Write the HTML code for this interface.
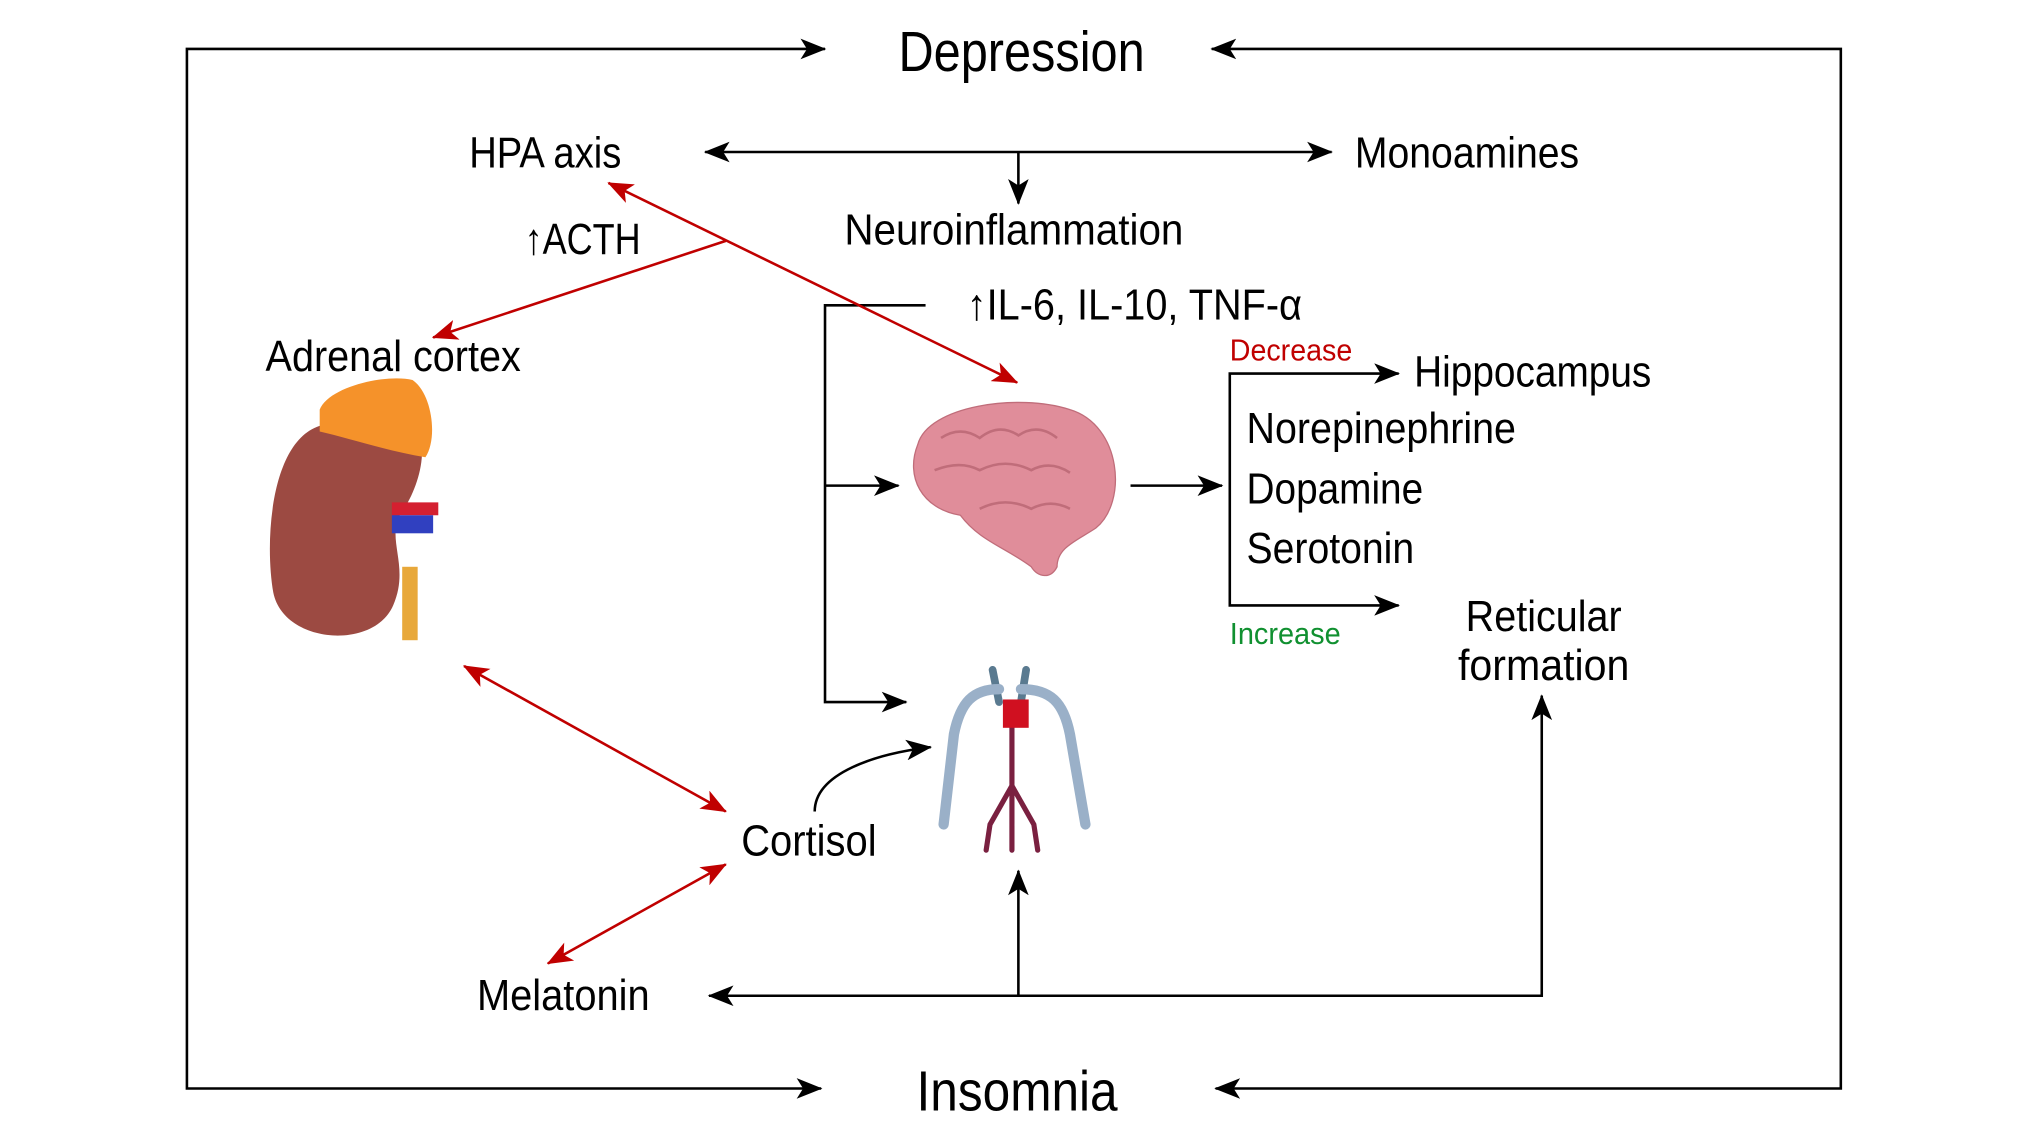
<!DOCTYPE html>
<html><head><meta charset="utf-8"><style>
html,body{margin:0;padding:0;background:#fff;width:2020px;height:1131px;overflow:hidden}
svg{display:block}
text{font-family:"Liberation Sans Narrow","Liberation Sans",sans-serif;fill:#000}
</style></head><body>
<svg width="2020" height="1131" viewBox="0 0 1567 878" preserveAspectRatio="none" xmlns="http://www.w3.org/2000/svg">
<defs>
<marker id="a" viewBox="0 0 20 16" refX="19" refY="8" markerWidth="20" markerHeight="16" markerUnits="userSpaceOnUse" orient="auto-start-reverse"><path d="M0,0 L20,8 L0,16 L5,8 z" fill="#000"/></marker>
<marker id="r" viewBox="0 0 20 16" refX="19" refY="8" markerWidth="20" markerHeight="16" markerUnits="userSpaceOnUse" orient="auto-start-reverse"><path d="M0,0 L20,8 L0,16 L5,8 z" fill="#c00000"/></marker>
</defs>
<g fill="none" stroke="#000" stroke-width="2">
<polyline points="640,38 145,38 145,845 637,845" marker-start="url(#a)" marker-end="url(#a)"/>
<polyline points="940,38 1428,38 1428,845 943,845" marker-start="url(#a)" marker-end="url(#a)"/>
<line x1="547" y1="118" x2="1033" y2="118" marker-start="url(#a)" marker-end="url(#a)"/>
<line x1="790" y1="118" x2="790" y2="158" marker-end="url(#a)"/>
<polyline points="718,237 640,237 640,545 703,545" marker-end="url(#a)"/>
<line x1="640" y1="377" x2="697" y2="377" marker-end="url(#a)"/>
<line x1="877" y1="377" x2="948" y2="377" marker-end="url(#a)"/>
<polyline points="1085,290 954,290 954,470 1085,470" marker-start="url(#a)" marker-end="url(#a)"/>
<polyline points="550,773 1196,773 1196,540" marker-start="url(#a)" marker-end="url(#a)"/>
<line x1="790" y1="773" x2="790" y2="676" marker-end="url(#a)"/>
<path d="M632,630 C632,600 680,585 722,580" marker-end="url(#a)"/>
</g>
<g fill="none" stroke="#c00000" stroke-width="2">
<line x1="472" y1="142" x2="789" y2="297" marker-start="url(#r)" marker-end="url(#r)"/>
<line x1="563" y1="187" x2="336" y2="262" marker-end="url(#r)"/>
<line x1="360" y1="517" x2="563" y2="630" marker-start="url(#r)" marker-end="url(#r)"/>
<line x1="563" y1="671" x2="425" y2="748" marker-start="url(#r)" marker-end="url(#r)"/>
</g>
<!-- kidney -->
<path d="M250,330 C210,340 205,420 212,460 C220,500 290,505 305,470 C318,440 300,420 310,400 C325,380 335,345 320,325 C300,310 270,320 250,330 Z" fill="#9c4a42"/>
<path d="M248,318 C255,300 300,290 320,295 C335,305 340,340 330,355 C300,350 270,340 248,335 Z" fill="#f5922a"/>
<rect x="312" y="440" width="12" height="57" fill="#e8a83a"/>
<rect x="304" y="390" width="36" height="10" fill="#d42030"/>
<rect x="304" y="400" width="32" height="14" fill="#3040c0"/>
<!-- brain -->
<path d="M712,345 C720,315 790,305 830,318 C870,330 875,390 850,410 C835,420 820,425 820,440 C815,450 805,448 800,440 C780,425 760,420 745,400 C715,395 702,370 712,345 Z" fill="#e08d9a" stroke="#c06d7a" stroke-width="1"/>
<path d="M730,340 q15,-10 30,0 q15,-12 30,-2 q15,-10 30,2 M725,365 q20,-8 35,0 q20,-10 40,0 q15,-8 30,2 M760,395 q20,-10 40,0 q15,-8 30,0" fill="none" stroke="#c06d7a" stroke-width="2"/>
<!-- circulatory -->
<g fill="none" stroke-linecap="round">
<path d="M770,520 L775,545 M796,520 L792,545" stroke="#5a7a90" stroke-width="6"/>
<path d="M775,535 C755,535 745,545 740,570 L732,640 M792,535 C815,535 825,545 830,570 L842,640" stroke="#9ab0c8" stroke-width="8"/>
<path d="M785,560 L785,610 L768,640 L765,660 M785,610 L802,640 L805,660 M785,610 L785,660" stroke="#7a2040" stroke-width="4"/>
<rect x="778" y="543" width="20" height="22" fill="#d01020" stroke="none"/>
</g>
<!-- text -->
<text x="697" y="55" font-size="44" textLength="191" lengthAdjust="spacingAndGlyphs">Depression</text>
<text x="711" y="862" font-size="44" textLength="156" lengthAdjust="spacingAndGlyphs">Insomnia</text>
<g font-size="34">
<text x="364" y="130" textLength="118" lengthAdjust="spacingAndGlyphs">HPA axis</text>
<text x="1051" y="130" textLength="174" lengthAdjust="spacingAndGlyphs">Monoamines</text>
<text x="655" y="190" textLength="263" lengthAdjust="spacingAndGlyphs">Neuroinflammation</text>
<text x="750" y="248" textLength="260" lengthAdjust="spacingAndGlyphs">↑IL-6, IL-10, TNF-α</text>
<text x="407" y="197" textLength="90" lengthAdjust="spacingAndGlyphs">↑ACTH</text>
<text x="206" y="288" textLength="198" lengthAdjust="spacingAndGlyphs">Adrenal cortex</text>
<text x="1097" y="300" textLength="184" lengthAdjust="spacingAndGlyphs">Hippocampus</text>
<text x="967" y="344" textLength="209" lengthAdjust="spacingAndGlyphs">Norepinephrine</text>
<text x="967" y="391" textLength="137" lengthAdjust="spacingAndGlyphs">Dopamine</text>
<text x="967" y="437" textLength="130" lengthAdjust="spacingAndGlyphs">Serotonin</text>
<text x="1137" y="490" textLength="121" lengthAdjust="spacingAndGlyphs">Reticular</text>
<text x="1131" y="528" textLength="133" lengthAdjust="spacingAndGlyphs">formation</text>
<text x="575" y="664" textLength="105" lengthAdjust="spacingAndGlyphs">Cortisol</text>
<text x="370" y="784" textLength="134" lengthAdjust="spacingAndGlyphs">Melatonin</text>
</g>
<text x="954" y="280" font-size="24" style="fill:#c00000" textLength="95" lengthAdjust="spacingAndGlyphs">Decrease</text>
<text x="954" y="500" font-size="24" style="fill:#109030" textLength="86" lengthAdjust="spacingAndGlyphs">Increase</text>
</svg>
</body></html>
